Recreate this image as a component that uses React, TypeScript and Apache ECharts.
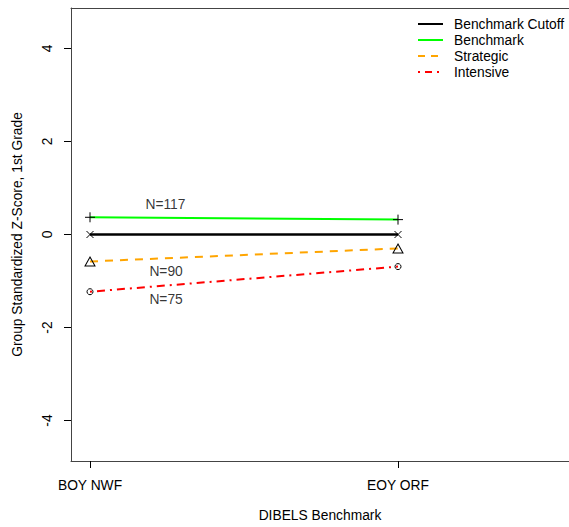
import React, { useEffect, useRef } from "react";
import * as echarts from "echarts";

const categories = ["BOY NWF", "EOY ORF"];
const cutoffValues = [0, 0];
const benchmarkValues = [0.37, 0.32];
const strategicValues = [-0.58, -0.3];
const intensiveValues = [-1.23, -0.69];
const yTicks = [-4, -2, 0, 2, 4];
const annotationLabels = ["N=117", "N=90", "N=75"];
const annotationX = [0.245, 0.247, 0.247];
const annotationY = [0.64, -0.8, -1.4];
const legendNames = ["Benchmark Cutoff", "Benchmark", "Strategic", "Intensive"];

const FONT = "'Liberation Sans', Arial, sans-serif";
const FS = 13.8;

const PLUS = "path://M0,5L10,5M5,0L5,10";
const CROSS = "path://M0,0L10,10M10,0L0,10";

const toPts = (vals: number[]) => vals.map((v, i) => [i, v]);

export default function App() {
  const ref = useRef<HTMLDivElement>(null);
  useEffect(() => {
    document.body.style.margin = "0";
    document.body.style.overflow = "hidden";
    if (!ref.current) return;
    const chart = echarts.init(ref.current, null, { renderer: "svg" });
    const markerStyle = { color: "none", borderColor: "#000", borderWidth: 1 };
    const legendColors = ["#000000", "#00ff00", "#ffa500", "#ff0000"];
    const legendDash: any[] = [null, null, [7, 6], [2, 5, 7, 5]];
    const legendRows = [24, 40, 56, 72];
    const legendGraphics: any[] = [];
    legendNames.forEach((n, i) => {
      legendGraphics.push({
        type: "line",
        shape: { x1: 418, y1: legendRows[i], x2: 443, y2: legendRows[i] },
        style: {
          stroke: legendColors[i],
          lineWidth: 2,
          lineDash: legendDash[i] || undefined,
        },
      });
      legendGraphics.push({
        type: "text",
        x: 454,
        y: legendRows[i],
        style: {
          text: n,
          font: `${FS}px ${FONT}`,
          fill: "#000",
          verticalAlign: "middle",
          textAlign: "left",
        },
      });
    });

    const boxLine = { show: true, onZero: false, lineStyle: { color: "#444", width: 1 } };

    chart.setOption({
      animation: false,
      backgroundColor: "#fff",
      textStyle: { fontFamily: FONT },
      grid: {
        left: 71,
        top: 8,
        width: 498,
        height: 453,
        show: false,
        containLabel: false,
        outerBoundsMode: "none",
      },
      xAxis: [
        {
          type: "value",
          position: "bottom",
          min: -0.0617,
          max: 1.5552,
          splitLine: { show: false },
          axisLine: boxLine,
          axisTick: {
            show: true,
            length: 7,
            inside: false,
            customValues: [0, 1],
            lineStyle: { color: "#000", width: 1 },
          },
          axisLabel: {
            show: true,
            margin: 17,
            customValues: [0, 1],
            formatter: (v: number) => categories[Math.round(v)] ?? "",
            fontSize: FS,
            fontFamily: FONT,
            color: "#000",
          },
          name: "DIBELS Benchmark",
          nameLocation: "middle",
          nameGap: 47,
          nameTextStyle: { fontSize: FS, fontFamily: FONT, color: "#000" },
        },
        {
          type: "value",
          position: "top",
          min: -0.0617,
          max: 1.5552,
          splitLine: { show: false },
          axisLine: boxLine,
          axisTick: { show: false },
          axisLabel: { show: false },
        },
      ],
      yAxis: {
        type: "value",
        min: -4.87,
        max: 4.87,
        splitLine: { show: false },
        axisLine: boxLine,
        axisTick: {
          show: true,
          length: 7,
          inside: false,
          customValues: yTicks,
          lineStyle: { color: "#000", width: 1 },
        },
        axisLabel: {
          show: true,
          rotate: 90,
          margin: 17,
          customValues: yTicks,
          fontSize: FS,
          fontFamily: FONT,
          color: "#000",
        },
        name: "Group Standardized Z-Score, 1st Grade",
        nameLocation: "middle",
        nameRotate: 90,
        nameGap: 47,
        nameTextStyle: { fontSize: FS, fontFamily: FONT, color: "#000" },
      },
      series: [
        {
          name: legendNames[0],
          type: "line",
          data: toPts(cutoffValues),
          lineStyle: { color: "#000", width: 2.5 },
          symbol: CROSS,
          symbolSize: 7,
          itemStyle: markerStyle,
          z: 3,
        },
        {
          name: legendNames[1],
          type: "line",
          data: toPts(benchmarkValues),
          lineStyle: { color: "#00ff00", width: 2 },
          symbol: PLUS,
          symbolSize: 10,
          itemStyle: markerStyle,
          z: 2,
        },
        {
          name: legendNames[2],
          type: "line",
          data: toPts(strategicValues),
          lineStyle: { color: "#ffa500", width: 2, type: [8, 7] },
          symbol: "triangle",
          symbolSize: [10, 9],
          itemStyle: markerStyle,
          z: 2,
        },
        {
          name: legendNames[3],
          type: "line",
          data: toPts(intensiveValues),
          lineStyle: { color: "#ff0000", width: 2, type: [2, 5, 8, 5] },
          symbol: "circle",
          symbolSize: 6,
          itemStyle: markerStyle,
          z: 2,
        },
        {
          name: "annotations",
          type: "scatter",
          symbolSize: 0,
          data: annotationLabels.map((t, i) => ({
            name: t,
            value: [annotationX[i], annotationY[i]],
          })),
          label: {
            show: true,
            position: "inside",
            formatter: (p: any) => p.name,
            fontSize: FS,
            fontFamily: FONT,
            color: "#000",
          },
          silent: true,
          z: 5,
        },
      ],
      graphic: legendGraphics,
    });
    return () => chart.dispose();
  }, []);
  return <div ref={ref} style={{ width: 569, height: 527 }} />;
}
